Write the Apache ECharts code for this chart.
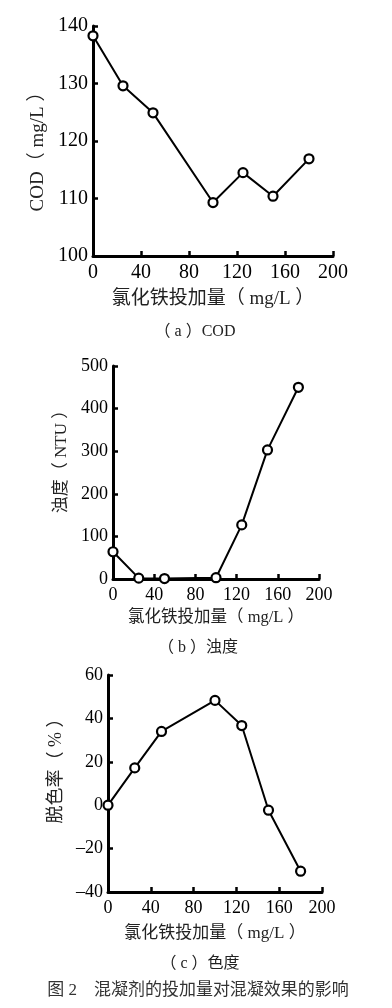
<!DOCTYPE html>
<html><head><meta charset="utf-8">
<script src="https://cdn.jsdelivr.net/npm/echarts@6/dist/echarts.min.js"></script>
<style>html,body{margin:0;padding:0;background:#fff}#c{width:392px;height:1008px}</style>
</head><body><div id="c"></div>
<script>
const doses = [0, 25, 50, 100, 125, 150, 180];
const codValues = [138.3, 129.6, 124.9, 109.3, 114.5, 110.4, 116.9];
const turbidityValues = [64, 2, 1, 3, 127, 303, 450];
const decolorValues = [0, 17.2, 34, 48.3, 36.7, -2.3, -30.4];
const xTicks = [0, 40, 80, 120, 160, 200];
const xName = '氯化铁投加量（ mg/L ）';
const yNames = ['COD（ mg/L ）', '浊度（ NTU ）', '脱色率（ % ）'];
const captions = ['（ a ）COD', '（ b ）浊度', '（ c ）色度'];
const figCaption = '图 2    混凝剂的投加量对混凝效果的影响';

const FONT = '"Liberation Serif", "DejaVu Serif", "Noto Sans CJK SC", serif';
const axisLine = {onZero: false, lineStyle: {color: '#000', width: 3}};
const axisTick = {inside: true, length: 5, lineStyle: {color: '#000', width: 2.5}};

function xAxis(i, fs, gap, nfs) {
  return {gridIndex: i, type: 'value', min: xTicks[0], max: xTicks[xTicks.length-1], interval: 40,
    axisLine, axisTick, splitLine: {show: false},
    axisLabel: {color: '#000', fontFamily: FONT, fontSize: fs, margin: 7},
    name: xName, nameLocation: 'middle', nameGap: gap,
    nameTextStyle: {color: '#222', fontFamily: FONT, fontSize: nfs}};
}
function yAxis(i, min, max, interval, fs, gap, pad, nfs) {
  return {gridIndex: i, type: 'value', min, max, interval,
    axisLine, axisTick, splitLine: {show: false},
    axisLabel: {color: '#000', fontFamily: FONT, fontSize: fs, margin: 5,
      formatter: v => String(v).replace('-', '\u2013')},
    name: yNames[i], nameLocation: 'middle', nameGap: gap, nameRotate: 90,
    nameTextStyle: {color: '#222', fontFamily: FONT, fontSize: nfs, padding: pad}};
}
function series(i, vals) {
  return {type: 'line', xAxisIndex: i, yAxisIndex: i,
    data: doses.map((d, k) => [d, vals[k]]),
    symbol: 'circle', symbolSize: 9,
    lineStyle: {color: '#000', width: 2},
    itemStyle: {color: '#fff', borderColor: '#000', borderWidth: 2.2},
    animation: false};
}
const capStyle = {fontFamily: FONT, fontSize: 16, fontWeight: 'normal', color: '#222'};
const chart = echarts.init(document.getElementById('c'));
chart.setOption({
  backgroundColor: '#fff',
  animation: false,
  title: [
    {text: captions[0], left: 190, top: 319, textAlign: 'center', textStyle: capStyle},
    {text: captions[1], left: 193, top: 635, textAlign: 'center', textStyle: capStyle},
    {text: captions[2], left: 195, top: 951, textAlign: 'center', textStyle: capStyle},
    {text: figCaption, left: 193, top: 977, textAlign: 'center', textStyle: {fontFamily: FONT, fontSize: 17, fontWeight: 'normal', color: '#333'}}
  ],
  grid: [
    {left: 93, top: 26, width: 240, height: 230},
    {left: 113, top: 366, width: 206, height: 213},
    {left: 108, top: 675, width: 214, height: 217}
  ],
  xAxis: [xAxis(0, 20, 34, 19), xAxis(1, 18, 30, 16.5), xAxis(2, 18, 33, 17)],
  yAxis: [yAxis(0, 100, 140, 10, 20, 45, [0, 12, 0, 0], 19), yAxis(1, 0, 500, 100, 18, 41, [0, 0, 0, 30], 17), yAxis(2, -40, 60, 20, 18, 34, [0, 0, 0, 34], 18)],
  series: [series(0, codValues), series(1, turbidityValues), series(2, decolorValues)]
});
</script></body></html>
